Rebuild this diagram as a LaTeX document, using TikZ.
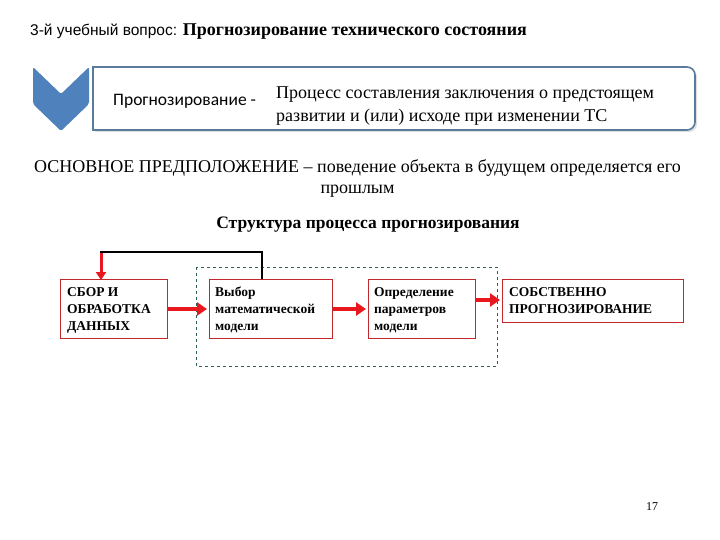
\documentclass[tikz,border=0pt]{standalone}
\usepackage{fontspec}
\setmainfont{Liberation Serif}
\newfontfamily\arialf{Liberation Sans}
\newfontfamily\calibrif{Carlito}
\usetikzlibrary{arrows.meta}
\definecolor{chevblue}{HTML}{4F81BD}
\definecolor{defborder}{HTML}{5B7B9C}
\definecolor{boxred}{HTML}{C0282B}
\definecolor{arrred}{HTML}{E8181E}
\definecolor{dashteal}{HTML}{2F5F5A}
\tikzset{
  stepbox/.style={draw=boxred, line width=0.8pt, fill=white, anchor=north west, inner sep=0pt},
  boxtext/.style={font=\fontsize{13.5}{17}\selectfont\bfseries, align=left, anchor=north west, inner sep=0pt},
  redarrow/.style={draw=arrred, line width=3.8pt, -{Triangle[width=13pt,length=10pt]}},
}
\begin{document}
\begin{tikzpicture}[x=1pt,y=-1pt]
\useasboundingbox (0,0) rectangle (720,540);
% title
\node[anchor=base west, inner sep=0pt] (title) at (30,36) {\arialf\fontsize{15.5}{18}\selectfont 3-й учебный вопрос: {\rmfamily\bfseries\fontsize{18}{20}\selectfont Прогнозирование технического состояния}};
% definition box shadow
\fill[black!12, rounded corners=8pt] (400,69) -- (697,69) -- (697,132) -- (400,132);
\fill[black!12] (400,69) -- (95,69) -- (95,132) -- (400,132) -- cycle;
\fill[white, rounded corners=8pt] (400,67) -- (695,67) -- (695,130) -- (400,130);
\fill[white] (400,67) -- (93,67) -- (93,130) -- (400,130) -- cycle;
\draw[defborder, line width=1.6pt, rounded corners=8pt] (400,67) -- (695,67) -- (695,130) -- (400,130);
\draw[defborder, line width=1.6pt] (400,67) -- (93,67) -- (93,130) -- (400,130);
% chevron
\fill[chevblue, rounded corners=2pt] (33,67) -- (61,94) -- (89,67) -- (89,104) -- (61,131) -- (33,104) -- cycle;
\node[anchor=base west, inner sep=0pt] (term) at (113,106) {\calibrif\fontsize{17.5}{20}\selectfont Прогнозирование -};
\node[anchor=base west, inner sep=0pt, align=left, font=\fontsize{18}{23}\selectfont] (def) at (276,122) {Процесс составления заключения о предстоящем\\ развитии и (или) исходе при изменении ТС};
% main assumption
\node[anchor=base, inner sep=0pt, align=center, font=\fontsize{18}{21}\selectfont] (assume) at (357.5,194) {ОСНОВНОЕ ПРЕДПОЛОЖЕНИЕ -- поведение объекта в будущем определяется его\\ прошлым};
\node[anchor=base, inner sep=0pt, font=\fontsize{17.5}{20}\selectfont\bfseries] (struct) at (368,229) {Структура процесса прогнозирования};
% dashed group
\draw[dashteal, dashed, line width=0.8pt] (196,267) rectangle (497,366);
% boxes
\node[stepbox, minimum width=107pt, minimum height=59pt] (b1) at (60,279) {};
\node[stepbox, minimum width=123pt, minimum height=59pt] (b2) at (209,279) {};
\node[stepbox, minimum width=107pt, minimum height=59pt] (b3) at (368,279) {};
\node[stepbox, minimum width=181pt, minimum height=43pt] (b4) at (502,279) {};
\node[boxtext] (t1) at ([xshift=7pt,yshift=-8pt]b1.north west) {СБОР И\\ОБРАБОТКА\\ДАННЫХ};
\node[boxtext] (t2) at ([xshift=6pt,yshift=-8pt]b2.north west) {Выбор\\математической\\модели};
\node[boxtext] (t3) at ([xshift=6pt,yshift=-8pt]b3.north west) {Определение\\параметров\\модели};
\node[boxtext] (t4) at ([xshift=7pt,yshift=-8pt]b4.north west) {СОБСТВЕННО\\ПРОГНОЗИРОВАНИЕ};
% arrows
\draw[redarrow] (b1.east |- 0,309) -- ([xshift=-2pt]b2.west |- 0,309);
\draw[redarrow] (b2.east |- 0,309) -- ([xshift=-2pt]b3.west |- 0,309);
\draw[redarrow] (b3.east |- 0,300) -- ([xshift=-2pt]b4.west |- 0,300);
% feedback
\coordinate (fbA) at (262,252);
\coordinate (fbB) at (101,252);
\draw[black, line width=2pt] (b2.north -| fbA) -- (fbA) -- ([xshift=-1pt]fbB);
\draw[arrred, line width=3pt, -{Triangle[width=10pt,length=8pt]}] ([yshift=-1pt]fbB) -- ([yshift=-1pt]b1.north -| fbB);
% page number
\node[anchor=base, inner sep=0pt] (page) at (652,510) {\fontsize{12}{14}\selectfont 17};
\end{tikzpicture}
\end{document}
